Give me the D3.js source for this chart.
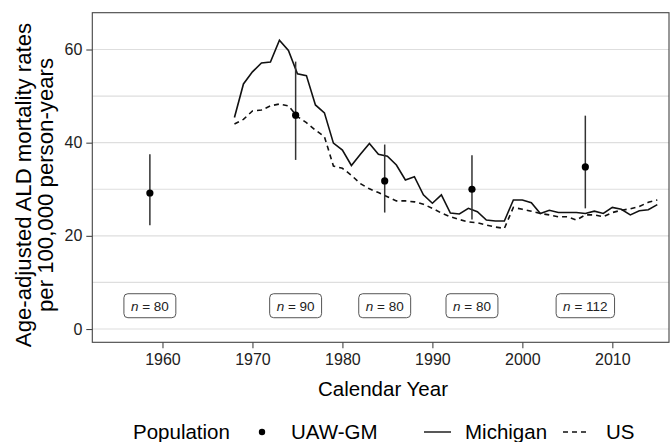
<!DOCTYPE html>
<html lang="en">
<head>
    <meta charset="UTF-8">
    <title>ALD mortality</title>
    <style>
        body { margin: 0; background: #fff; }
        svg { display: block; font-family: "Liberation Sans", Arial, sans-serif; }
    </style>
</head>
<body>
<script src="https://d3js.org/d3.v7.min.js"></script>
<script>
    // yearly rates, 1968-2015
    var years = d3.range(1968, 2016);
    var michigan = [45.4, 52.6, 55.2, 57.1, 57.3, 62.0, 59.8, 54.8, 54.4, 48.1,
                    46.4, 39.9, 38.4, 35.1, 37.5, 39.8, 37.5, 37.1, 35.2, 32.0,
                    32.7, 28.8, 27.0, 28.8, 24.9, 24.7, 25.9, 25.2, 23.4, 23.2,
                    23.2, 27.7, 27.7, 27.1, 24.8, 25.5, 25.0, 25.0, 25.0, 24.8,
                    25.3, 24.8, 26.1, 25.7, 24.5, 25.4, 25.6, 26.7];
    var us = [44.0, 45.0, 46.8, 47.0, 47.9, 48.3, 47.9, 45.6, 44.3, 42.7,
              41.3, 35.0, 34.5, 33.0, 31.2, 30.1, 29.3, 28.4, 27.5, 27.5,
              27.3, 26.8, 25.9, 24.9, 24.1, 23.5, 23.0, 22.8, 22.3, 21.9,
              21.6, 26.1, 25.7, 25.3, 24.8, 24.5, 24.1, 24.1, 23.4, 24.5,
              24.5, 24.1, 25.0, 25.5, 25.8, 26.3, 27.2, 27.7];

    // UAW-GM cohort estimates
    var cohortYear = [1958.6, 1974.8, 1984.7, 1994.4, 2007.0];
    var cohortRate = [29.2, 45.9, 31.8, 30.0, 34.8];
    var cohortLow = [22.3, 36.3, 25.0, 23.5, 25.9];
    var cohortHigh = [37.5, 57.4, 39.6, 37.3, 45.8];
    var cohortN = [80, 90, 80, 80, 112];

    var xTicks = [1960, 1970, 1980, 1990, 2000, 2010];
    var yTicks = [0, 20, 40, 60];
    var yMinor = [10, 30, 50];

    var W = 672, H = 442;
    var pLeft = 92.3, pRight = 669, pTop = 12.7, pBottom = 342.3;

    var svg = d3.select("body").append("svg")
        .attr("width", W)
        .attr("height", H);

    var x = d3.scaleLinear().domain([1952.2, 2016.3]).range([pLeft, pRight]);
    var y = d3.scaleLinear().domain([-2.85, 67.9]).range([pBottom, pTop]);

    // grid
    svg.append("g").selectAll("line")
        .data(yTicks.concat(yMinor))
        .enter().append("line")
        .attr("x1", pLeft).attr("x2", pRight)
        .attr("y1", function(d) { return y(d); })
        .attr("y2", function(d) { return y(d); })
        .attr("stroke", "#dedede")
        .attr("stroke-width", 1.2);

    // axes
    var xAxis = svg.append("g")
        .attr("transform", "translate(0," + pBottom + ")")
        .call(d3.axisBottom(x).tickValues(xTicks).tickFormat(d3.format("d")).tickSize(6).tickPadding(5));
    var yAxis = svg.append("g")
        .attr("transform", "translate(" + pLeft + ",0)")
        .call(d3.axisLeft(y).tickValues(yTicks).tickSize(6).tickPadding(4));

    [xAxis, yAxis].forEach(function(a) {
        a.select(".domain").remove();
        a.selectAll(".tick line").attr("stroke", "#444").attr("stroke-width", 1.1);
        a.selectAll(".tick text")
            .attr("fill", "#222")
            .style("font-size", "16px")
            .style("font-family", "'Liberation Sans', Arial, sans-serif");
    });

    // panel border
    svg.append("rect")
        .attr("x", pLeft).attr("y", pTop)
        .attr("width", pRight - pLeft).attr("height", pBottom - pTop)
        .attr("fill", "none")
        .attr("stroke", "#444")
        .attr("stroke-width", 1.1);

    var line = d3.line()
        .x(function(d, i) { return x(years[i]); })
        .y(function(d) { return y(d); });

    svg.append("path")
        .attr("d", line(us))
        .attr("fill", "none")
        .attr("stroke", "#111")
        .attr("stroke-width", 1.6)
        .attr("stroke-dasharray", "5,4");

    svg.append("path")
        .attr("d", line(michigan))
        .attr("fill", "none")
        .attr("stroke", "#111")
        .attr("stroke-width", 1.6);

    // error bars + points
    var pts = svg.append("g").selectAll("g")
        .data(cohortYear)
        .enter().append("g");

    pts.append("line")
        .attr("x1", function(d) { return x(d); })
        .attr("x2", function(d) { return x(d); })
        .attr("y1", function(d, i) { return y(cohortLow[i]); })
        .attr("y2", function(d, i) { return y(cohortHigh[i]); })
        .attr("stroke", "#333")
        .attr("stroke-width", 1.5);

    pts.append("circle")
        .attr("cx", function(d) { return x(d); })
        .attr("cy", function(d, i) { return y(cohortRate[i]); })
        .attr("r", 3.6)
        .attr("fill", "#000");

    // n labels
    var lab = pts.append("g")
        .attr("transform", function(d) { return "translate(" + x(d) + "," + y(5) + ")"; });

    var txt = lab.append("text")
        .attr("text-anchor", "middle")
        .attr("dy", "0.36em")
        .style("font-size", "13.5px")
        .attr("fill", "#222");
    txt.append("tspan").style("font-style", "italic").text("n");
    txt.append("tspan").text(function(d, i) { return " = " + cohortN[i]; });

    lab.each(function() {
        var g = d3.select(this);
        var bb = g.select("text").node().getBBox();
        g.insert("rect", "text")
            .attr("x", bb.x - 7)
            .attr("y", -12)
            .attr("width", bb.width + 14)
            .attr("height", 24)
            .attr("rx", 4)
            .attr("fill", "#fff")
            .attr("stroke", "#555")
            .attr("stroke-width", 1);
    });

    // axis titles
    svg.append("text")
        .attr("x", 383).attr("y", 396)
        .attr("text-anchor", "middle")
        .style("font-size", "20.5px")
        .text("Calendar Year");

    var yt = svg.append("text")
        .attr("transform", "translate(0,185) rotate(-90)")
        .attr("text-anchor", "middle")
        .style("font-size", "22.2px");
    yt.append("tspan").attr("x", 0).attr("y", 31).text("Age-adjusted ALD mortality rates");
    yt.append("tspan").attr("x", 0).attr("y", 53).text("per 100,000 person-years");

    // legend
    var leg = svg.append("g").style("font-size", "20.5px");
    leg.append("text").attr("x", 133).attr("y", 439).text("Population");
    leg.append("circle").attr("cx", 262).attr("cy", 432).attr("r", 3.2).attr("fill", "#000");
    leg.append("text").attr("x", 291).attr("y", 439).text("UAW-GM");
    leg.append("line").attr("x1", 424).attr("x2", 451).attr("y1", 432).attr("y2", 432)
        .attr("stroke", "#111").attr("stroke-width", 1.4);
    leg.append("text").attr("x", 465).attr("y", 439).text("Michigan");
    leg.append("line").attr("x1", 563).attr("x2", 590).attr("y1", 432).attr("y2", 432)
        .attr("stroke", "#111").attr("stroke-width", 1.4).attr("stroke-dasharray", "5,4");
    leg.append("text").attr("x", 606).attr("y", 439).text("US");
</script>
</body>
</html>
